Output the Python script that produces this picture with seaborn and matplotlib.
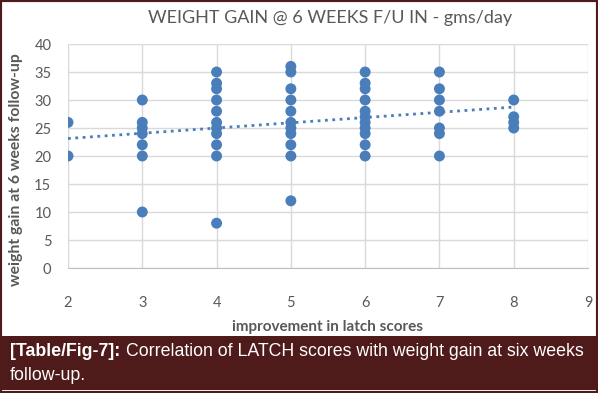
import matplotlib
matplotlib.use("Agg")
import matplotlib.pyplot as plt
import seaborn as sns
import pandas as pd
from matplotlib.patches import Rectangle

# latch score improvement (x) and weight gain gms/day (y)
latch_2 = [26, 20]
latch_3 = [30, 26, 25, 24, 22, 20, 10]
latch_4 = [35, 33, 32, 30, 28, 26, 25, 24, 22, 20, 8]
latch_5 = [36, 35, 32, 30, 28, 26, 25, 24, 22, 20, 12]
latch_6 = [35, 33, 32, 30, 28, 27, 26, 25, 24, 22, 20]
latch_7 = [35, 32, 30, 28, 25, 24, 20]
latch_8 = [30, 27, 26, 25]

scores = [2, 3, 4, 5, 6, 7, 8]
gains = [latch_2, latch_3, latch_4, latch_5, latch_6, latch_7, latch_8]

x_ticks = [2, 3, 4, 5, 6, 7, 8, 9]
y_ticks = [0, 5, 10, 15, 20, 25, 30, 35, 40]

rows = [(s, g) for s, gs in zip(scores, gains) for g in gs]
df = pd.DataFrame(rows, columns=["latch", "gain"])

sns.set_style("white")
plt.rcParams["font.family"] = ["Lato", "DejaVu Sans"]

blue = "#4a7ebb"
grey_txt = "#595959"
maroon = "#4f1a1a"

fig = plt.figure(figsize=(5.98, 3.93), dpi=100)
ax = fig.add_axes([68 / 598, 1 - 268 / 393, 520 / 598, 224 / 393])

sns.regplot(data=df, x="latch", y="gain", scatter=False, ci=None, ax=ax,
            color=blue, line_kws={"linestyle": ":", "linewidth": 2})
sns.scatterplot(data=df, x="latch", y="gain", ax=ax, color=blue, s=62,
                edgecolor="none", zorder=3)

ax.set_xlim(2, 9)
ax.set_ylim(0, 40)
ax.set_xticks(x_ticks)
ax.set_yticks(y_ticks)
ax.grid(True, color="#d9d9d9", linewidth=1)
ax.set_axisbelow(True)
for side in ["left", "right", "top"]:
    ax.spines[side].set_visible(False)
ax.spines["bottom"].set_color("#bfbfbf")
ax.tick_params(axis="both", length=0, labelsize=10.5, labelcolor=grey_txt)
ax.tick_params(axis="x", pad=20)
ax.tick_params(axis="y", pad=12)

ax.set_xlabel("improvement in latch scores", fontsize=11, fontweight="bold",
              color=grey_txt, va="center")
ax.xaxis.set_label_coords(0.5, -0.262)
ax.set_ylabel("weight gain at 6 weeks follow-up", fontsize=11.3,
              fontweight="bold", color=grey_txt, va="center")
ax.yaxis.set_label_coords(-0.1, 0.44)

fig.text(330 / 598, 1 - 18 / 393, "WEIGHT GAIN @ 6 WEEKS F/U IN - gms/day",
         ha="center", va="center", fontsize=13, color=grey_txt)

# caption band
fig.patches.append(Rectangle((0, 3 / 393), 1, 54 / 393, transform=fig.transFigure,
                             facecolor=maroon, edgecolor="none", zorder=0))
fig.patches.append(Rectangle((0, 0), 1, 1, transform=fig.transFigure,
                             facecolor="none", edgecolor=maroon, linewidth=3))

cap_font = ["Liberation Sans Narrow", "Liberation Sans", "DejaVu Sans"]
t1 = fig.text(10 / 598, 1 - 351 / 393, "[Table/Fig-7]:", family=cap_font,
              fontsize=12.8, fontweight="bold", color="white", va="center")
fig.canvas.draw()
bb = t1.get_window_extent(fig.canvas.get_renderer())
fig.text(bb.x1 / fig.bbox.width + 6 / 598, 1 - 351 / 393,
         "Correlation of LATCH scores with weight gain at six weeks",
         family=cap_font, fontsize=12.8, color="white", va="center")
fig.text(10 / 598, 1 - 375 / 393, "follow-up.", family=cap_font,
         fontsize=12.8, color="white", va="center")

fig.savefig("out.png", dpi=100)
